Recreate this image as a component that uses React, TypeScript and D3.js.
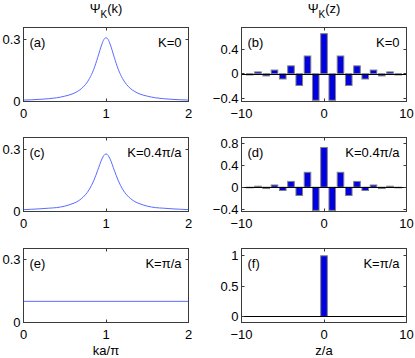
import React, { useEffect, useRef } from 'react';
import * as d3 from 'd3';

// momentum-space amplitude, k in units of pi/a
const kGrid = [0, 0.1, 0.2, 0.3, 0.4, 0.5, 0.6, 0.65, 0.7, 0.75, 0.8, 0.85, 0.9, 0.95, 0.975, 1, 1.025, 1.05, 1.1, 1.15, 1.2, 1.25, 1.3, 1.35, 1.4, 1.5, 1.6, 1.7, 1.8, 1.9, 2];
const psiA = [0.007, 0.0085, 0.0105, 0.0135, 0.018, 0.026, 0.038, 0.048, 0.062, 0.082, 0.112, 0.155, 0.215, 0.279, 0.302, 0.31, 0.302, 0.279, 0.215, 0.155, 0.112, 0.082, 0.062, 0.048, 0.038, 0.026, 0.018, 0.0135, 0.0105, 0.0085, 0.007];
const psiC = [0.009, 0.011, 0.013, 0.016, 0.019, 0.026, 0.039, 0.048, 0.062, 0.081, 0.109, 0.149, 0.201, 0.255, 0.273, 0.28, 0.273, 0.255, 0.201, 0.149, 0.109, 0.081, 0.062, 0.048, 0.039, 0.026, 0.019, 0.016, 0.013, 0.011, 0.009];
const kFlat = [0, 1, 2];
const psiE = [0.1, 0.1, 0.1];

// real-space amplitude on lattice sites z/a
const zSites = [-9, -8, -7, -6, -5, -4, -3, -2, -1, 0, 1, 2, 3, 4, 5, 6, 7, 8, 9];
const barsB = [-0.02, 0.03, -0.035, 0.06, -0.085, 0.128, -0.19, 0.288, -0.43, 0.65, -0.43, 0.288, -0.19, 0.128, -0.085, 0.06, -0.035, 0.03, -0.02];
const barsD = [-0.012, 0.018, -0.025, 0.04, -0.06, 0.105, -0.15, 0.27, -0.42, 0.72, -0.42, 0.27, -0.15, 0.105, -0.06, 0.04, -0.025, 0.018, -0.012];
const barsF = [0, 0, 0, 0, 0, 0, 0, 0, 0, 1, 0, 0, 0, 0, 0, 0, 0, 0, 0];

const kTicks = [0, 1, 2];
const zTicks = [-10, 0, 10];

export default function App() {
    const ref = useRef<SVGSVGElement>(null);

    useEffect(() => {
        if (!ref.current) return;
        const svg = d3.select(ref.current);
        svg.selectAll('*').remove();

        const font = '"Liberation Sans", Arial, sans-serif';
        const fs = 13;
        const rowTop = [27.5, 137.5, 248.5];
        const rowH = 74;
        const tickLen = 3;

        const xLeft = d3.scaleLinear().domain([0, 2]).range([23.5, 188.5]);
        const xRight = d3.scaleLinear().domain([-10, 10]).range([241.5, 406.5]);
        const fmt = (v: number) => d3.format('')(v).replace('-', '\u2212');

        const panels = [
            { id: 'a', row: 0, kind: 'line', xs: kGrid, ys: psiA, yDom: [0, 0.36], yTicks: [0, 0.3], note: 'K=0' },
            { id: 'b', row: 0, kind: 'bar', xs: zSites, ys: barsB, yDom: [-0.45, 0.75], yTicks: [-0.4, 0, 0.4], note: 'K=0' },
            { id: 'c', row: 1, kind: 'line', xs: kGrid, ys: psiC, yDom: [0, 0.36], yTicks: [0, 0.3], note: 'K=0.4\u03c0/a' },
            { id: 'd', row: 1, kind: 'bar', xs: zSites, ys: barsD, yDom: [-0.44, 0.9], yTicks: [-0.4, 0, 0.4, 0.8], note: 'K=0.4\u03c0/a' },
            { id: 'e', row: 2, kind: 'line', xs: kFlat, ys: psiE, yDom: [0, 0.35], yTicks: [0, 0.3], note: 'K=\u03c0/a' },
            { id: 'f', row: 2, kind: 'bar', xs: zSites, ys: barsF, yDom: [-0.1, 1.12], yTicks: [0, 0.5, 1], note: 'K=\u03c0/a' },
        ];

        panels.forEach(p => {
            const x = p.kind === 'line' ? xLeft : xRight;
            const xTicks = p.kind === 'line' ? kTicks : zTicks;
            const top = rowTop[p.row];
            const bottom = top + rowH;
            const y = d3.scaleLinear().domain(p.yDom).range([bottom, top]);
            const [x0, x1] = x.range();
            const g = svg.append('g');

            g.append('clipPath').attr('id', 'clip-' + p.id)
                .append('rect').attr('x', x0).attr('y', top).attr('width', x1 - x0).attr('height', rowH);
            const plot = g.append('g').attr('clip-path', `url(#clip-${p.id})`);

            if (p.kind === 'line') {
                const pts = p.xs.map((v, i) => [v, p.ys[i]] as [number, number]);
                plot.append('path')
                    .datum(pts)
                    .attr('fill', 'none')
                    .attr('stroke', '#5a6bff')
                    .attr('stroke-width', 1)
                    .attr('d', d3.line<[number, number]>()
                        .curve(d3.curveMonotoneX)
                        .x(d => x(d[0]))
                        .y(d => y(d[1])));
            } else {
                const bw = x(0.8) - x(0);
                p.xs.forEach((z, i) => {
                    const v = p.ys[i];
                    if (v === 0) return;
                    plot.append('rect')
                        .attr('x', x(z) - bw / 2)
                        .attr('y', Math.min(y(v), y(0)))
                        .attr('width', bw)
                        .attr('height', Math.abs(y(v) - y(0)))
                        .attr('fill', '#0000e0')
                        .attr('stroke', '#808080')
                        .attr('stroke-width', 1);
                });
                plot.append('line')
                    .attr('x1', x0).attr('x2', x1)
                    .attr('y1', Math.round(y(0)) + 0.5).attr('y2', Math.round(y(0)) + 0.5)
                    .attr('stroke', '#000').attr('stroke-width', 1);
            }

            // box + inward ticks on all sides
            g.append('rect')
                .attr('x', x0).attr('y', top).attr('width', x1 - x0).attr('height', rowH)
                .attr('fill', 'none').attr('stroke', '#3a3a3a').attr('stroke-width', 1);

            xTicks.forEach(t => {
                const tx = Math.round(x(t) - 0.5) + 0.5;
                g.append('line').attr('x1', tx).attr('x2', tx).attr('y1', bottom).attr('y2', bottom - tickLen).attr('stroke', '#3a3a3a');
                g.append('line').attr('x1', tx).attr('x2', tx).attr('y1', top).attr('y2', top + tickLen).attr('stroke', '#3a3a3a');
                g.append('text')
                    .attr('x', x(t)).attr('y', bottom + 16)
                    .attr('text-anchor', 'middle')
                    .style('font-family', font).style('font-size', fs + 'px')
                    .text(fmt(t));
            });

            p.yTicks.forEach(t => {
                const ty = Math.round(y(t) - 0.5) + 0.5;
                g.append('line').attr('x1', x0).attr('x2', x0 + tickLen).attr('y1', ty).attr('y2', ty).attr('stroke', '#3a3a3a');
                g.append('line').attr('x1', x1).attr('x2', x1 - tickLen).attr('y1', ty).attr('y2', ty).attr('stroke', '#3a3a3a');
                g.append('text')
                    .attr('x', x0 - 3).attr('y', y(t) + 4.5)
                    .attr('text-anchor', 'end')
                    .style('font-family', font).style('font-size', fs + 'px')
                    .text(fmt(t));
            });

            g.append('text')
                .attr('x', x0 + 6).attr('y', top + 19)
                .style('font-family', font).style('font-size', fs + 'px')
                .text(`(${p.id})`);
            g.append('text')
                .attr('x', x1 - 7).attr('y', top + 19)
                .attr('text-anchor', 'end')
                .style('font-family', font).style('font-size', fs + 'px')
                .text(p.note);
        });

        // column titles
        const titles = [
            { cx: (xLeft.range()[0] + xLeft.range()[1]) / 2, arg: '(k)' },
            { cx: (xRight.range()[0] + xRight.range()[1]) / 2, arg: '(z)' },
        ];
        titles.forEach(t => {
            const txt = svg.append('text')
                .attr('x', t.cx).attr('y', 13)
                .attr('text-anchor', 'middle')
                .style('font-family', font).style('font-size', fs + 'px');
            txt.append('tspan').text('\u03a8');
            txt.append('tspan').attr('dy', 5).style('font-size', '10px').text('K');
            txt.append('tspan').attr('dy', -5).text(t.arg);
        });

        // x labels
        const bottomRow = rowTop[2] + rowH;
        [{ cx: (xLeft.range()[0] + xLeft.range()[1]) / 2, label: 'ka/\u03c0' },
         { cx: (xRight.range()[0] + xRight.range()[1]) / 2, label: 'z/a' }].forEach(l => {
            svg.append('text')
                .attr('x', l.cx).attr('y', bottomRow + 32)
                .attr('text-anchor', 'middle')
                .style('font-family', font).style('font-size', fs + 'px')
                .text(l.label);
        });
    }, []);

    return (
        <svg ref={ref} width={415} height={358}
            style={{ position: 'absolute', left: 0, top: 0, background: '#fff' }} />
    );
}
